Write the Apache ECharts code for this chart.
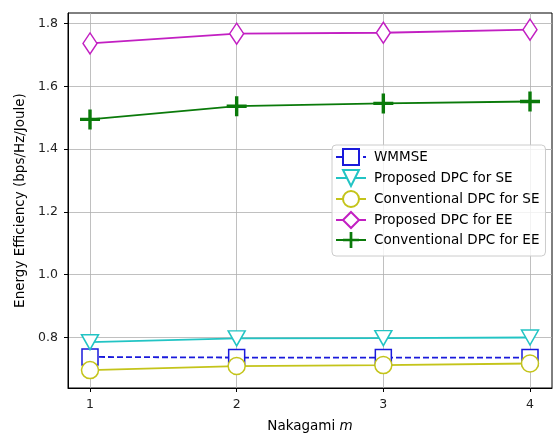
<!DOCTYPE html>
<html>
<head>
<meta charset="utf-8">
<script src="https://cdn.jsdelivr.net/npm/echarts@6/dist/echarts.min.js"></script>
<style>html,body{margin:0;padding:0;background:#fff}#c{width:554px;height:434px}</style>
</head>
<body>
<div id="c"></div>
<script>
const xValues = [1, 2, 3, 4];
const wmmse = [0.738, 0.736, 0.736, 0.736];
const propSE = [0.785, 0.797, 0.798, 0.800];
const convSE = [0.696, 0.709, 0.712, 0.717];
const propEE = [1.737, 1.768, 1.771, 1.781];
const convEE = [1.495, 1.537, 1.546, 1.552];
const yTicks = [0.8, 1.0, 1.2, 1.4, 1.6, 1.8];
const seriesNames = ['WMMSE', 'Proposed DPC for SE', 'Conventional DPC for SE', 'Proposed DPC for EE', 'Conventional DPC for EE'];

const pair = arr => xValues.map((x, i) => [x, arr[i]]);
const FONT = 'DejaVu Sans';
const plusPath = 'path://M4.15,0H5.85V4.15H10V5.85H5.85V10H4.15V5.85H0V4.15H4.15Z';

function mk(name, data, color, symbol, size, opts) {
  return Object.assign({
    name: name, type: 'line', data: pair(data),
    symbol: symbol, symbolSize: size, showAllSymbol: true,
    lineStyle: {color: color, width: 1.8},
    itemStyle: {color: '#fff', borderColor: color, borderWidth: 1.5},
    emphasis: {disabled: true}, animation: false
  }, opts || {});
}

const chart = echarts.init(document.getElementById('c'), null, {renderer: 'canvas'});
chart.setOption({
  backgroundColor: '#fff',
  animation: false,
  grid: {left: 68, top: 13, right: 2, bottom: 46, show: true, borderColor: '#000', borderWidth: 1, containLabel: false, outerBoundsMode: 'none'},
  xAxis: {
    type: 'value', min: 0.85, max: 4.15,
    name: '{a|Nakagami }{b|m}', nameLocation: 'middle', nameGap: 31,
    nameTextStyle: {rich: {a: {fontFamily: FONT, fontSize: 13.5, color: '#000'}, b: {fontFamily: FONT, fontSize: 13.5, fontStyle: 'italic', color: '#000'}}},
    axisLine: {show: true, lineStyle: {color: '#000', width: 1}},
    axisTick: {show: true, length: 4, customValues: xValues, lineStyle: {color: '#000'}},
    axisLabel: {customValues: xValues, fontFamily: FONT, fontSize: 12.5, color: '#222', margin: 10},
    splitLine: {show: true, lineStyle: {color: '#b0b0b0', width: 0.8}}
  },
  yAxis: {
    type: 'value', min: 0.639, max: 1.834,
    name: 'Energy Efficiency (bps/Hz/Joule)', nameLocation: 'middle', nameGap: 41,
    nameTextStyle: {fontFamily: FONT, fontSize: 13.5, color: '#000'},
    axisLine: {show: true, lineStyle: {color: '#000', width: 1}},
    axisTick: {show: true, length: 4, customValues: yTicks, lineStyle: {color: '#000'}},
    axisLabel: {customValues: yTicks, fontFamily: FONT, fontSize: 12.5, color: '#222', margin: 10, formatter: v => v.toFixed(1)},
    splitLine: {show: true, lineStyle: {color: '#b0b0b0', width: 0.8}}
  },
  legend: {
    data: seriesNames,
    orient: 'vertical', left: 332, top: 145,
    itemWidth: 30, itemHeight: 20, itemGap: 3,
    textStyle: {fontFamily: FONT, fontSize: 13.5, color: '#000', padding: [0, 0, 0, 3]},
    backgroundColor: 'rgba(255,255,255,0.8)', borderColor: '#cccccc', borderWidth: 1, borderRadius: 4,
    padding: [3, 6, 8, 3], selectedMode: false
  },
  series: [
    mk(seriesNames[0], wmmse, '#1a1adb', 'rect', [16, 16], {lineStyle: {color: '#1a1adb', width: 1.8, type: [6, 3]}}),
    mk(seriesNames[1], propSE, '#22c4c4', 'triangle', [17, 15], {symbolRotate: 180}),
    mk(seriesNames[2], convSE, '#c4c41a', 'circle', 17),
    mk(seriesNames[3], propEE, '#c21fc2', 'diamond', [14, 21]),
    mk(seriesNames[4], convEE, '#0a7a0a', plusPath, 20, {itemStyle: {color: '#0a7a0a', borderWidth: 0}})
  ]
});
</script>
</body>
</html>
